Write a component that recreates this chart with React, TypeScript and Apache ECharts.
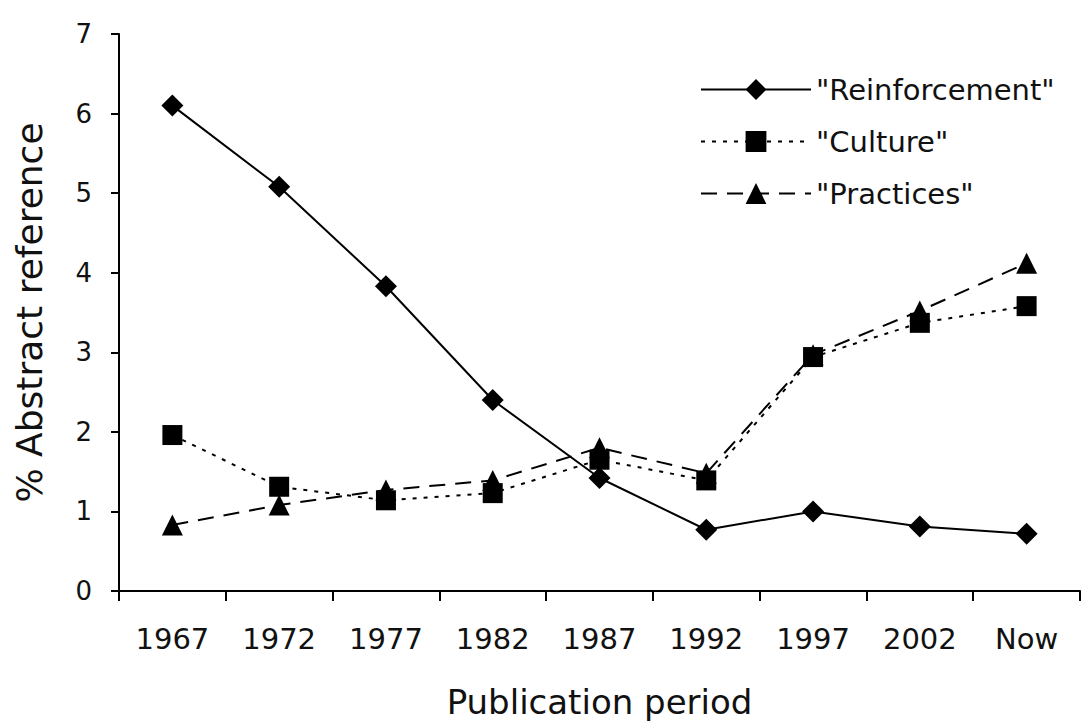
import React, { useEffect, useRef } from "react";
import * as echarts from "echarts";

const categories = ["1967", "1972", "1977", "1982", "1987", "1992", "1997", "2002", "Now"];
const reinforcement = [6.1, 5.08, 3.83, 2.4, 1.42, 0.77, 1.0, 0.81, 0.72];
const culture = [1.96, 1.31, 1.14, 1.23, 1.65, 1.39, 2.94, 3.37, 3.58];
const practices = [0.83, 1.08, 1.27, 1.39, 1.8, 1.48, 2.97, 3.52, 4.12];
const yTicks = [0, 1, 2, 3, 4, 5, 6, 7];

const FONT = "'DejaVu Sans', Verdana, sans-serif";
const INK = "#111";

export default function App() {
  const ref = useRef<HTMLDivElement>(null);
  useEffect(() => {
    if (!ref.current) return;
    const chart = echarts.init(ref.current, null, { renderer: "svg" });
    chart.setOption({
      animation: false,
      backgroundColor: "#fff",
      textStyle: { fontFamily: FONT, color: INK },
      grid: { left: 119, right: 3, top: 34, bottom: 136, containLabel: false, outerBoundsMode: "none" },
      legend: {
        orient: "vertical",
        left: 695,
        top: 70,
        itemWidth: 110,
        itemHeight: 26,
        itemGap: 23,
        textStyle: { fontFamily: FONT, fontSize: 29, color: INK, lineHeight: 29, padding: [0, 0, 0, 0] },
        data: ['"Reinforcement"', '"Culture"', '"Practices"'],
      },
      xAxis: {
        type: "category",
        data: categories,
        boundaryGap: true,
        name: "Publication period",
        nameLocation: "middle",
        nameGap: 94,
        nameTextStyle: { fontFamily: FONT, fontSize: 34, color: INK },
        axisLine: { lineStyle: { color: "#000", width: 2 } },
        axisTick: { show: true, alignWithLabel: false, length: 10, lineStyle: { color: "#000", width: 2 } },
        axisLabel: { fontFamily: FONT, fontSize: 29, color: INK, margin: 33, interval: 0 },
        splitLine: { show: false },
      },
      yAxis: {
        type: "value",
        min: yTicks[0],
        max: yTicks[yTicks.length - 1],
        interval: 1,
        name: "% Abstract reference",
        nameLocation: "middle",
        nameGap: 72,
        nameTextStyle: { fontFamily: FONT, fontSize: 36, color: INK },
        axisLine: { show: true, lineStyle: { color: "#000", width: 2 } },
        axisTick: { show: true, length: 8, lineStyle: { color: "#000", width: 2 } },
        axisLabel: { fontFamily: FONT, fontSize: 26, color: INK, margin: 27 },
        splitLine: { show: false },
      },
      series: [
        {
          name: '"Reinforcement"',
          type: "line",
          data: reinforcement,
          symbol: "diamond",
          symbolSize: 22,
          itemStyle: { color: "#000" },
          lineStyle: { color: "#000", width: 2, type: "solid" },
          z: 3,
        },
        {
          name: '"Culture"',
          type: "line",
          data: culture,
          symbol: "rect",
          symbolSize: 20,
          itemStyle: { color: "#000" },
          lineStyle: { color: "#000", width: 2, type: [4, 7] },
          z: 2,
        },
        {
          name: '"Practices"',
          type: "line",
          data: practices,
          symbol: "triangle",
          symbolSize: 21,
          itemStyle: { color: "#000" },
          lineStyle: { color: "#000", width: 2, type: [16, 10] },
          z: 2,
        },
      ],
    });
    return () => chart.dispose();
  }, []);
  return (
    <div
      ref={ref}
      style={{ position: "fixed", left: 0, top: 0, width: 1083, height: 727, background: "#fff" }}
    />
  );
}
